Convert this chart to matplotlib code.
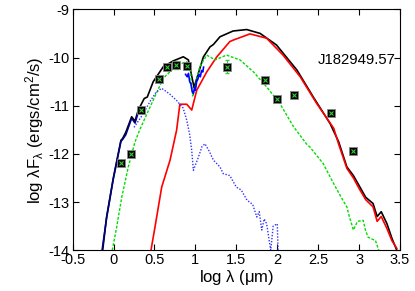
import matplotlib
matplotlib.use("Agg")
import matplotlib.pyplot as plt
import numpy as np

plt.rcParams['font.family'] = ['Liberation Sans', 'DejaVu Sans']
plt.rcParams['mathtext.fontset'] = 'custom'
plt.rcParams['mathtext.rm'] = 'Liberation Sans'
plt.rcParams['mathtext.it'] = 'Liberation Sans'

# Photometry points
obs_x = [0.087, 0.216, 0.335, 0.555, 0.649, 0.763, 0.897, 1.38, 1.85, 2.0, 2.21, 2.66, 2.93]
obs_y = [-12.18, -12.01, -11.09, -10.45, -10.20, -10.15, -10.17, -10.19, -10.46, -10.86, -10.78, -11.15, -11.94]
obs_err = [0.06, 0.05, 0.05, 0.05, 0.05, 0.08, 0.05, 0.14, 0.04, 0.04, 0.04, 0.04, 0.04]

# Total model (black)
tot_x = [-0.133, -0.085, -0.004, 0.09, 0.111, 0.15, 0.221, 0.262, 0.302, 0.375, 0.412, 0.485, 0.608,
         0.73, 0.852, 0.914, 0.983, 1.036, 1.097, 1.178, 1.22, 1.30, 1.46, 1.627, 1.79, 1.99, 2.24,
         2.44, 2.645, 2.75, 2.85, 2.93, 3.01, 3.08, 3.17, 3.22, 3.27, 3.34, 3.40, 3.46]
tot_y = [-14.0, -13.31, -12.51, -11.72, -11.68, -11.55, -11.23, -11.32, -11.09, -10.85, -10.82, -10.5, -10.19,
         -10.07, -9.985, -10.05, -10.62, -10.33, -9.99, -9.78, -9.73, -9.57, -9.45, -9.42, -9.5, -9.74, -10.26,
         -10.82, -11.37, -11.75, -12.27, -12.45, -12.69, -12.9, -13.03, -13.3, -13.2, -13.45, -13.75, -14.0]

# Cold dust / envelope (red)
red_x = [0.457, 0.506, 0.588, 0.69, 0.77, 0.81, 0.894, 0.955, 1.016, 1.138, 1.26, 1.42, 1.46, 1.667,
         1.87, 2.07, 2.28, 2.48, 2.69, 2.75, 2.85, 2.93, 3.01, 3.08, 3.17, 3.22, 3.27, 3.34, 3.40, 3.46]
red_y = [-14.0, -13.52, -12.69, -12.13, -11.51, -10.97, -10.97, -11.09, -10.68, -10.3, -9.99, -9.67, -9.64, -9.51,
         -9.6, -9.95, -10.4, -10.95, -11.47, -11.8, -12.3, -12.5, -12.75, -12.95, -13.1, -13.4, -13.3, -13.55, -13.8, -13.96]

# Disk (green dashed)
grn_x = [-0.016, 0.038, 0.1, 0.18, 0.262, 0.32, 0.445, 0.608, 0.77, 0.894, 0.935, 0.967, 1.0, 1.05, 1.138,
         1.24, 1.38, 1.545, 1.71, 1.87, 2.03, 2.2, 2.36, 2.40, 2.56, 2.69, 2.78, 2.85, 2.88, 2.93, 2.98, 3.05,
         3.08, 3.11, 3.2, 3.24]
grn_y = [-14.0, -13.52, -12.9, -12.27, -11.75, -11.5, -11.03, -10.43, -10.16, -10.09, -10.2, -10.8, -10.6, -10.2, -9.95,
         -10.05, -9.95, -10.05, -10.3, -10.61, -10.95, -11.44, -11.8, -11.86, -12.2, -12.62, -12.9, -13.1, -13.3, -13.58, -13.4, -13.38,
         -13.6, -13.73, -13.8, -14.0]

# Stellar photosphere (blue dotted)
star_x = [0.25, 0.35, 0.45, 0.52, 0.588, 0.68, 0.77, 0.85, 0.894, 0.93, 0.955, 0.975, 1.03, 1.08, 1.117,
          1.17, 1.22, 1.30, 1.34, 1.42, 1.5, 1.56, 1.63, 1.70, 1.75, 1.78, 1.81, 1.84, 1.87, 1.92, 1.95, 2.0, 2.01]
star_y = [-11.45, -11.2, -10.9, -10.72, -10.64, -10.75, -10.89, -11.05, -11.3, -11.6, -11.93, -12.34, -12.1, -11.85, -11.79,
          -11.95, -12.13, -12.27, -12.41, -12.45, -12.69, -12.75, -12.96, -13.05, -13.31, -13.2, -13.58, -13.35, -13.45, -14.0, -13.5, -13.45, -14.0]

# Short-wavelength stellar part overlapping total (navy)
nav_x = [-0.14, -0.085, -0.004, 0.09, 0.111, 0.15, 0.221, 0.262, 0.30]
nav_y = [-14.0, -13.33, -12.53, -11.74, -11.7, -11.6, -11.26, -11.36, -11.15]

# IRS spectrum (blue solid)
irs_x = [0.88, 0.90, 0.915, 0.93, 0.945, 0.96, 0.975, 0.99, 1.0, 1.015, 1.03, 1.045, 1.06, 1.075, 1.09, 1.10]
irs_y = [-10.35, -10.4, -10.33, -10.5, -10.55, -10.7, -10.75, -10.62, -10.68, -10.5, -10.45, -10.35, -10.4, -10.27, -10.3, -10.2]

fig = plt.figure(figsize=(4.15, 2.91), dpi=100)
ax = fig.add_axes([0.175, 0.14, 0.789, 0.828])

ax.plot(red_x, red_y, color='#ff0000', lw=1.2, zorder=3)
ax.plot(tot_x, tot_y, color='black', lw=1.2, zorder=2)
ax.plot(grn_x, grn_y, color='#00dd00', lw=1.0, ls=(0, (2, 1.2)), zorder=4)
ax.plot(star_x, star_y, color='#3333ff', lw=1.0, ls=(0, (1, 1.2)), zorder=4)
ax.plot(nav_x, nav_y, color='#000080', lw=1.2, zorder=5)
ax.plot(irs_x, irs_y, color='#0000ff', lw=1.2, zorder=5)

ax.errorbar(obs_x, obs_y, yerr=obs_err, fmt='none', ecolor='#33cc33', elinewidth=0.8, capsize=1.5, zorder=6)
ax.plot(obs_x, obs_y, ls='none', marker='s', ms=6, mfc='black', mec='#888888', mew=0.6, zorder=7)
ax.plot(obs_x, obs_y, ls='none', marker='x', ms=2.5, mec='#33cc33', mew=0.8, zorder=8)

ax.set_xlim(-0.5, 3.5)
ax.set_ylim(-14, -9)
ax.set_xticks([-0.5, 0, 0.5, 1, 1.5, 2, 2.5, 3, 3.5])
ax.set_xticklabels(['-0.5', '0', '0.5', '1', '1.5', '2', '2.5', '3', '3.5'])
ax.set_yticks([-14, -13, -12, -11, -10, -9])
ax.set_yticklabels(['-14', '-13', '-12', '-11', '-10', '-9'])
ax.tick_params(direction='in', top=True, right=True, length=4, width=0.8, labelsize=10.5, pad=2)
for s in ax.spines.values():
    s.set_linewidth(0.8)

ax.set_xlabel(r'log $\lambda$ ($\mu$m)', fontsize=12, labelpad=1)
ax.set_ylabel(r'log $\lambda$F$_{\lambda}$ (ergs/cm$^{2}$/s)', fontsize=12, labelpad=2)
ax.text(0.985, 0.79, 'J182949.57', transform=ax.transAxes, ha='right', va='center', fontsize=10.7)

fig.savefig('out.png', dpi=100)
